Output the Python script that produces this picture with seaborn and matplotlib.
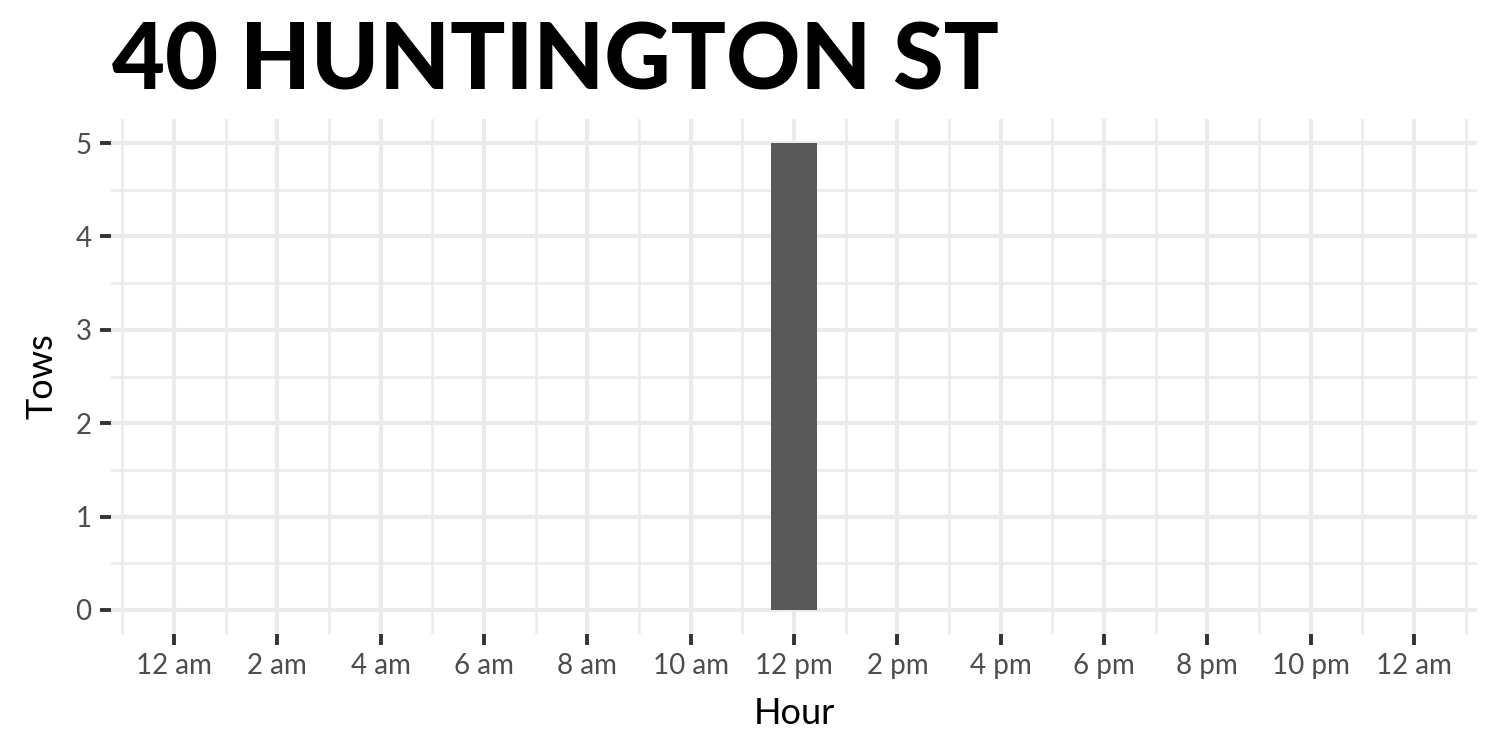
import numpy as np
import pandas as pd
import seaborn as sns
import matplotlib.pyplot as plt
from matplotlib.ticker import MultipleLocator

# tows per hour of day at this address
hours = list(range(24))
tows = [0] * 12 + [5] + [0] * 11

hour_ticks = list(range(0, 25, 2))
hour_labels = ['12 am', '2 am', '4 am', '6 am', '8 am', '10 am', '12 pm',
               '2 pm', '4 pm', '6 pm', '8 pm', '10 pm', '12 am']

title = '40 HUNTINGTON ST'

df = pd.DataFrame({'Hour': hours, 'Tows': tows})

sns.set_theme(style='white')
plt.rcParams['font.family'] = ['Lato', 'DejaVu Sans']

fig = plt.figure(figsize=(15, 7.5), dpi=100)
ax = fig.add_axes([0.074, 0.1547, 0.9107, 0.6866])

sns.barplot(data=df, x='Hour', y='Tows', native_scale=True, width=0.9,
            color='#595959', saturation=1, linewidth=0, ax=ax, zorder=3)

ax.set_xlim(-1.22, 25.22)
ax.set_ylim(-0.257, 5.257)
ax.set_xticks(hour_ticks)
ax.set_xticklabels(hour_labels)
ax.set_yticks(range(0, 6))
ax.xaxis.set_minor_locator(MultipleLocator(2, offset=1))
ax.yaxis.set_minor_locator(MultipleLocator(1, offset=0.5))

ax.grid(which='major', color='#EBEBEB', linewidth=3.0, zorder=0)
ax.grid(which='minor', color='#EBEBEB', linewidth=1.8, zorder=0)
ax.set_axisbelow(True)
for s in ax.spines.values():
    s.set_visible(False)

ax.tick_params(which='major', length=8, width=2.8, color='#333333',
               labelcolor='#4D4D4D', labelsize=20, pad=6,
               bottom=True, left=True)
ax.tick_params(which='minor', length=0)

ax.set_xlabel('Hour', fontsize=26, color='black', labelpad=13)
ax.set_ylabel('Tows', fontsize=26, color='black', labelpad=12)

fig.text(0.0747, 0.88, title, fontsize=66, fontweight='black',
         color='black', va='baseline', ha='left')

plt.savefig('out.png', dpi=100)
